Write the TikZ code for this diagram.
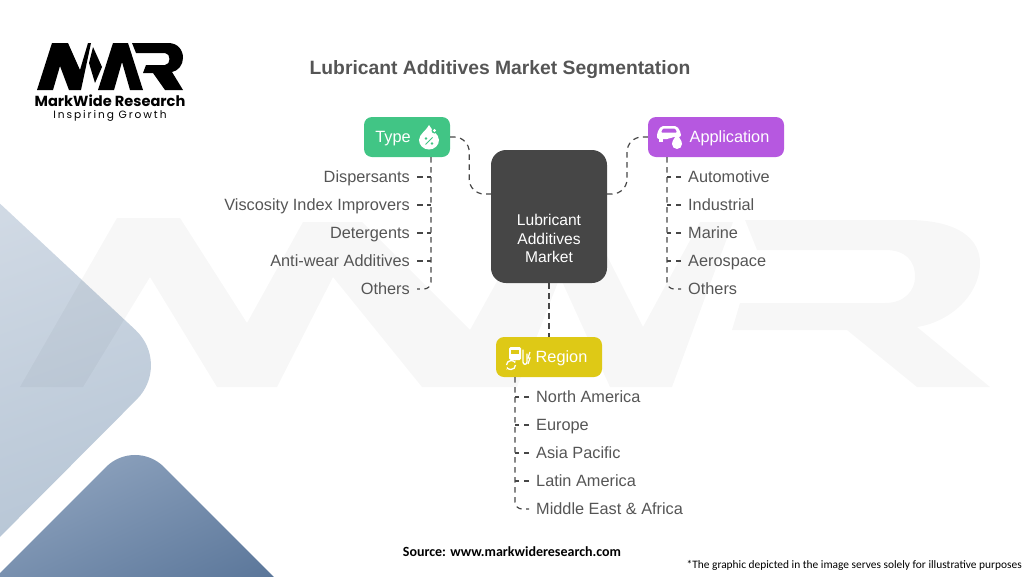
\documentclass[tikz,border=0pt]{standalone}
\usepackage{fontspec}
\usepackage{tikz}
\usepackage{xcolor}
\usetikzlibrary{arrows.meta,positioning,calc}
\setmainfont{Liberation Sans}
\newfontfamily\logofont{Poppins}
\newfontfamily\notefont{Carlito}
\definecolor{ink}{HTML}{555555}
\definecolor{hubfill}{HTML}{464646}
\definecolor{typefill}{HTML}{41C585}
\definecolor{appfill}{HTML}{B658E0}
\definecolor{regionfill}{HTML}{DEC916}
\definecolor{paleone}{HTML}{D5DDE7}
\definecolor{paletwo}{HTML}{B6C5D5}
\definecolor{deepone}{HTML}{94A8C2}
\definecolor{deeptwo}{HTML}{587498}
\tikzset{
  headbox/.style={rounded corners=8pt, minimum height=40pt, inner sep=0pt},
  headtext/.style={text=white, inner sep=0pt, text height=13pt, text depth=2.5pt, font=\fontsize{16.3}{19}\selectfont},
  itembox/.style={text=ink, inner sep=7pt, text height=13pt, text depth=2.5pt, font=\fontsize{16.3}{19}\selectfont},
  link/.style={draw=hubfill, line width=1.2pt, dash pattern=on 5.5pt off 4.5pt, rounded corners=7pt},
  curvelink/.style={link, rounded corners=15pt},
  icon/.style={fill=white, draw=none}
}
\begin{document}
\begin{tikzpicture}[x=1pt,y=-1pt]
  \useasboundingbox (0,0) rectangle (1024,576);
  % backdrop
  \shade[left color=paleone, right color=paletwo, shading angle=20, rounded corners=50pt]
    (172,364) -- (-35,171) -- (-230,364) -- (-35,572) -- cycle;
  \shade[left color=deepone, right color=deeptwo, shading angle=25, rounded corners=41pt]
    (135,438) -- (310,613) -- (-40,613) -- cycle;
  \fill[black,opacity=0.032] (20,387) -- (117,218) -- (180,218) -- (247,323) -- (303,222) -- (362,222)
    -- (470,330) -- (530,222) -- (590,222) -- (643,327) -- (700,222) -- (733,222) -- (672,387) -- (610,387)
    -- (560,277) -- (517,387) -- (422,387) -- (333,277) -- (277,387) -- (217,387) -- (150,277) -- (83,387) -- cycle;
  \fill[black,opacity=0.032] (745,220) -- (907,220) .. controls (960,220) and (980,240) .. (980,263)
    .. controls (980,295) and (950,322) .. (917,327) -- (990,387) -- (917,387) -- (847,330) -- (732,330)
    -- (740,303) -- (885,303) .. controls (905,303) and (915,290) .. (915,277)
    .. controls (915,260) and (905,250) .. (885,250) -- (757,250) -- cycle;
  % logo
  \fill[black] (37,90) -- (52,43) -- (68,43) -- (80,70) -- (88,43) -- (91,43) -- (81,90) -- (69,90) -- (60,66) -- (53,90) -- cycle;
  \fill[black] (93,47) -- (102,67) -- (95,83) -- (89,63) -- cycle;
  \fill[black] (98,90) -- (113,43) -- (128,43) -- (143,90) -- (130,90) -- (122,62) -- (114,90) -- cycle;
  \fill[black] (132,43) -- (168,43) .. controls (178,43) and (183,50) .. (183,58) .. controls (183,65) and (178,71) .. (172,72)
    -- (183,90) -- (165,90) -- (153,73) -- (143,73) -- (146,65) -- (165,65) .. controls (171,65) and (171,53) .. (165,53) -- (136,53) -- cycle;
  \node (logoname) at (110,101) [inner sep=0pt,font=\logofont\bfseries\fontsize{14.6}{17}\selectfont] {MarkWide Research};
  \node (logotag) at (110,115.5) [inner sep=0pt,font=\logofont\fontsize{10.6}{12}\selectfont] {\addfontfeature{LetterSpace=18}Inspiring Growth};
  % title
  \node (title) at (500,70) [inner sep=0pt,text=ink,font=\bfseries\fontsize{19.3}{23}\selectfont] {Lubricant Additives Market Segmentation};
  % hub and heads
  \node (hub) at (549,216.5) [fill=hubfill,rounded corners=15pt,minimum width=116pt,minimum height=133pt,inner sep=0pt] {};
  \node (hubtext) at (hub.center) [text=white,inner sep=0pt,align=center,yshift=-22pt,font=\fontsize{15.6}{18.5}\selectfont] {Lubricant\\Additives\\Market};
  \node (typebox) at (407,137) [headbox,fill=typefill,minimum width=86pt] {};
  \node (typelabel) at (393,137) [headtext] {Type};
  \node (appbox) at (716,137) [headbox,fill=appfill,minimum width=136pt] {};
  \node (applabel) at (729.5,137) [headtext] {Application};
  \node (regionbox) at (549,357) [headbox,fill=regionfill,minimum width=106pt] {};
  \node (regionlabel) at (561.5,357) [headtext] {Region};
  % items
  \foreach \name/\label/\y in {disp/Dispersants/177,visc/Viscosity Index Improvers/205,dete/Detergents/233,anti/Anti-wear Additives/261,typeother/Others/289} {
    \node (\name) at (417,\y) [itembox,anchor=east] {\label};
  }
  \foreach \name/\label/\y in {auto/Automotive/177,indu/Industrial/205,mari/Marine/233,aero/Aerospace/261,appother/Others/289} {
    \node (\name) at (681,\y) [itembox,anchor=west] {\label};
  }
  \foreach \name/\label/\y in {nort/North America/397,euro/Europe/425,asia/Asia Pacific/453,lati/Latin America/481,midd/Middle East \& Africa/509} {
    \node (\name) at (529,\y) [itembox,anchor=west] {\label};
  }
  % connectors
  \coordinate (hubleft) at (491,194);
  \coordinate (hubright) at (607,194);
  \coordinate (typetrunk) at (431,157);
  \coordinate (apptrunk) at (667,157);
  \coordinate (regiontrunk) at (515,377);
  \draw[curvelink] (typebox.east) -- ++(19,0) |- (hubleft);
  \draw[curvelink] (hubright) -- ++(20,0) |- (appbox.west);
  \draw[link] (hub.south) -- (regionbox.north);
  \draw[link] (typetrunk) |- (typeother.east);
  \draw[link] (apptrunk) |- (appother.west);
  \draw[link] (regiontrunk) |- (midd.west);
  \foreach \name in {disp,visc,dete,anti} {
    \draw[link] (\name.east) -- (\name.east -| typetrunk);
  }
  \foreach \name in {auto,indu,mari,aero} {
    \draw[link] (\name.west) -- (\name.west -| apptrunk);
  }
  \foreach \name in {nort,euro,asia,lati} {
    \draw[link] (\name.west) -- (\name.west -| regiontrunk);
  }
  % icons
  \fill[icon] (429,125) .. controls (431,130) and (439,134) .. (439,140) arc (0:180:10 and 9.5) .. controls (419,134) and (427,130) .. (429,125) -- cycle;
  \fill[typefill] (434.5,130.5) circle (3pt);
  \fill[icon] (434.5,130.5) circle (1.6pt);
  \draw[typefill,line width=1pt] (425.5,144.5) -- (432.5,137.5);
  \fill[typefill] (426,138.5) circle (1.3pt) (432,143.5) circle (1.3pt);
  \fill[icon,rounded corners=2pt] (657,139) -- (657,133) -- (661,126) -- (677,126) -- (681,133) -- (681,137) -- (672,137) -- (669,139) -- cycle;
  \fill[appfill,rounded corners=1pt] (663,128.5) -- (675,128.5) -- (677,132.5) -- (661,132.5) -- cycle;
  \fill[icon] (659,139) rectangle (663,142);
  \fill[icon] (677,133.5) .. controls (678,137) and (682,140) .. (682,144) arc (0:180:5) .. controls (672,140) and (676,137) .. (677,133.5) -- cycle;
  \fill[icon,rounded corners=1.5pt] (509,347) rectangle (521,360);
  \fill[regionfill] (511,350) rectangle (519,354);
  \draw[white,line width=1.3pt,line cap=round] (523,350) -- (523,362) .. controls (523,365) and (527,365) .. (527,362) -- (527,354);
  \draw[white,line width=1.2pt] (530,352) -- (528,358) -- (530,358) -- (528,364);
  \draw[white,line width=1.3pt,-{Stealth[length=3pt]}] (506.5,365) arc (180:340:4.5);
  \draw[white,line width=1.3pt,-{Stealth[length=3pt]}] (515.5,365) arc (0:160:4.5);
  % footer
  \node (source) at (512,552) [inner sep=0pt,font=\notefont\bfseries\fontsize{14}{16}\selectfont] {Source: www.markwideresearch.com};
  \node (note) at (1022,565) [inner sep=0pt,anchor=east,font=\notefont\fontsize{11.4}{14}\selectfont] {*The graphic depicted in the image serves solely for illustrative purposes};
\end{tikzpicture}
\end{document}
